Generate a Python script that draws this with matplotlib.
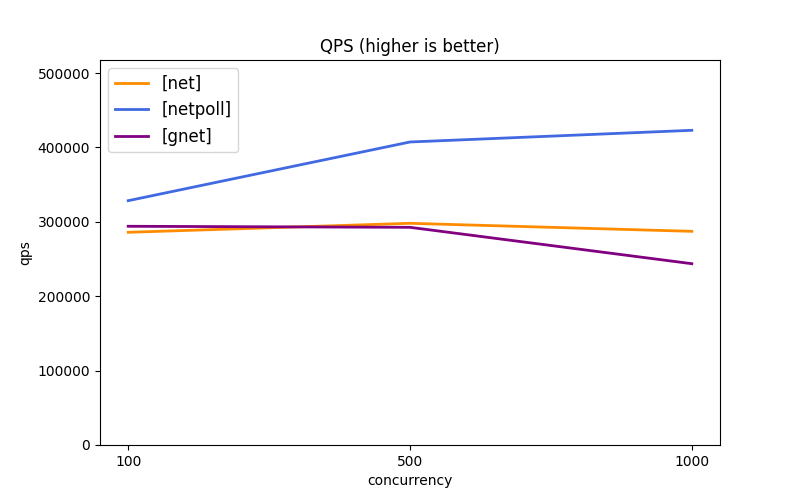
import matplotlib
matplotlib.use('Agg')
import matplotlib.pyplot as plt

concurrency = ['100', '500', '1000']
net_qps = [285900, 298000, 287200]
netpoll_qps = [328400, 407300, 423000]
gnet_qps = [294000, 292600, 243700]

fig, ax = plt.subplots(figsize=(8, 5), dpi=100)

x = range(len(concurrency))
ax.plot(x, net_qps, color='darkorange', linewidth=2, label='[net]')
ax.plot(x, netpoll_qps, color='royalblue', linewidth=2, label='[netpoll]')
ax.plot(x, gnet_qps, color='purple', linewidth=2, label='[gnet]')

ax.set_xticks(list(x))
ax.set_xticklabels(concurrency)
ax.set_ylim(0, 517500)
ax.set_title('QPS (higher is better)')
ax.set_xlabel('concurrency')
ax.set_ylabel('qps')
ax.legend(loc='upper left', fontsize=12)

fig.savefig('out.png')
